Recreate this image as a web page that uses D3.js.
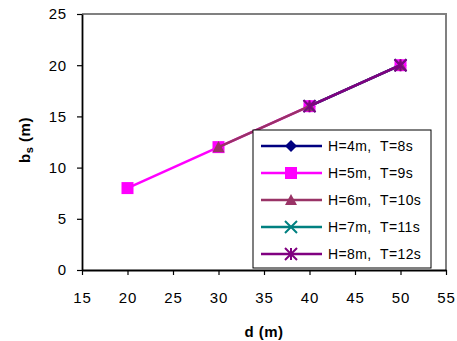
<!DOCTYPE html>
<html>
<head>
<meta charset="utf-8">
<script src="https://cdn.jsdelivr.net/npm/d3@7"></script>
<style>
  body { margin: 0; background: #fff; }
  svg { font-family: Arial, "Liberation Sans", sans-serif; }
</style>
</head>
<body>
<div id="chart"></div>
<script>
// series (d in m, bs in m)
const seriesNames = ['H=4m,  T=8s', 'H=5m,  T=9s', 'H=6m,  T=10s', 'H=7m,  T=11s', 'H=8m,  T=12s'];
const seriesColors = ['#000080', '#FF00FF', '#993366', '#008080', '#800080'];
const seriesSymbols = ['diamond', 'square', 'triangle', 'x', 'star'];
const d_H4 = [40, 50], bs_H4 = [16, 20];
const d_H5 = [20, 30, 40, 50], bs_H5 = [8, 12, 16, 20];
const d_H6 = [30, 40, 50], bs_H6 = [12, 16, 20];
const d_H7 = [40, 50], bs_H7 = [16, 20];
const d_H8 = [40, 50], bs_H8 = [16, 20];
const xTicks = [15, 20, 25, 30, 35, 40, 45, 50, 55];
const yTicks = [0, 5, 10, 15, 20, 25];

const allD = [d_H4, d_H5, d_H6, d_H7, d_H8];
const allB = [bs_H4, bs_H5, bs_H6, bs_H7, bs_H8];
const series = seriesNames.map((name, i) => ({
    name, color: seriesColors[i], symbol: seriesSymbols[i],
    pts: allD[i].map((d, j) => ({ d, b: allB[i][j] }))
}));

const width = 457, height = 341;
const margin = { top: 14, right: 11, bottom: 71, left: 82 };
const innerW = width - margin.left - margin.right;
const innerH = height - margin.top - margin.bottom;

const svg = d3.select('#chart').append('svg')
    .attr('width', width).attr('height', height);

const g = svg.append('g').attr('transform', `translate(${margin.left},${margin.top})`);

const x = d3.scaleLinear().domain([15, 55]).range([0, innerW]);
const y = d3.scaleLinear().domain([0, 25]).range([innerH, 0]);

// plot frame (top/right in grey)
g.append('path')
    .attr('d', `M0,0H${innerW}V${innerH}`)
    .attr('fill', 'none').attr('stroke', '#808080').attr('stroke-width', 2);

// axes
const xAxis = g.append('g').attr('transform', `translate(0,${innerH})`)
    .call(d3.axisBottom(x).tickValues(xTicks).tickSize(5).tickSizeOuter(0).tickPadding(17));
const yAxis = g.append('g')
    .call(d3.axisLeft(y).tickValues(yTicks).tickSize(5).tickSizeOuter(0).tickPadding(10));
[xAxis, yAxis].forEach(a => {
    a.select('.domain').attr('stroke', '#000').attr('stroke-width', 1.8);
    a.selectAll('.tick line').attr('stroke', '#000').attr('stroke-width', 1.2);
    a.selectAll('.tick text').attr('fill', '#000')
        .style('font-size', '15px').style('letter-spacing', '0.8px');
});

// markers
function symbolPath(type, size) {
    const s = size / 2;
    if (type === 'diamond') return `M0,${-s}L${s},0L0,${s}L${-s},0Z`;
    if (type === 'square') return `M${-s},${-s}H${s}V${s}H${-s}Z`;
    if (type === 'triangle') return `M0,${-s}L${s},${s * 0.85}L${-s},${s * 0.85}Z`;
    if (type === 'x') return `M${-s},${-s}L${s},${s}M${s},${-s}L${-s},${s}`;
    return `M${-s},${-s}L${s},${s}M${s},${-s}L${-s},${s}M0,${-s}V${s}`;
}
function drawMarker(sel, s) {
    const filled = s.symbol !== 'x' && s.symbol !== 'star';
    sel.append('path')
        .attr('d', symbolPath(s.symbol, 12))
        .attr('fill', filled ? s.color : 'none')
        .attr('stroke', s.color)
        .attr('stroke-width', filled ? 0 : 2);
}

const line = d3.line().x(p => x(p.d)).y(p => y(p.b));

series.forEach(s => {
    const sg = g.append('g');
    sg.append('path').datum(s.pts)
        .attr('d', line).attr('fill', 'none')
        .attr('stroke', s.color).attr('stroke-width', 2.5);
    s.pts.forEach(p => {
        drawMarker(sg.append('g').attr('transform', `translate(${x(p.d)},${y(p.b)})`), s);
    });
});

// legend
const lg = svg.append('g').attr('transform', 'translate(253,130)');
lg.append('rect').attr('width', 178).attr('height', 138)
    .attr('fill', '#fff').attr('stroke', '#000').attr('stroke-width', 1);
series.forEach((s, i) => {
    const row = lg.append('g').attr('transform', `translate(0,${16 + i * 27})`);
    row.append('line').attr('x1', 8).attr('x2', 69)
        .attr('stroke', s.color).attr('stroke-width', 2.5);
    drawMarker(row.append('g').attr('transform', 'translate(38,0)'), s);
    row.append('text').attr('x', 75).attr('dy', '0.35em')
        .style('white-space', 'pre')
        .style('font-size', '14px').style('letter-spacing', '0.4px').text(s.name);
});

// axis titles
svg.append('text')
    .attr('x', margin.left + innerW / 2).attr('y', 337)
    .attr('text-anchor', 'middle').style('font-size', '15px').style('font-weight', 'bold')
    .style('letter-spacing', '0.5px')
    .text('d (m)');
const yt = svg.append('text')
    .attr('transform', `translate(30,${margin.top + innerH / 2 - 2}) rotate(-90)`)
    .attr('text-anchor', 'middle').style('font-size', '15px').style('font-weight', 'bold')
    .style('letter-spacing', '0.5px');
yt.append('tspan').text('b');
yt.append('tspan').attr('dy', 3).style('font-size', '11px').text('s');
yt.append('tspan').attr('dy', -3).text(' (m)');
</script>
</body>
</html>
